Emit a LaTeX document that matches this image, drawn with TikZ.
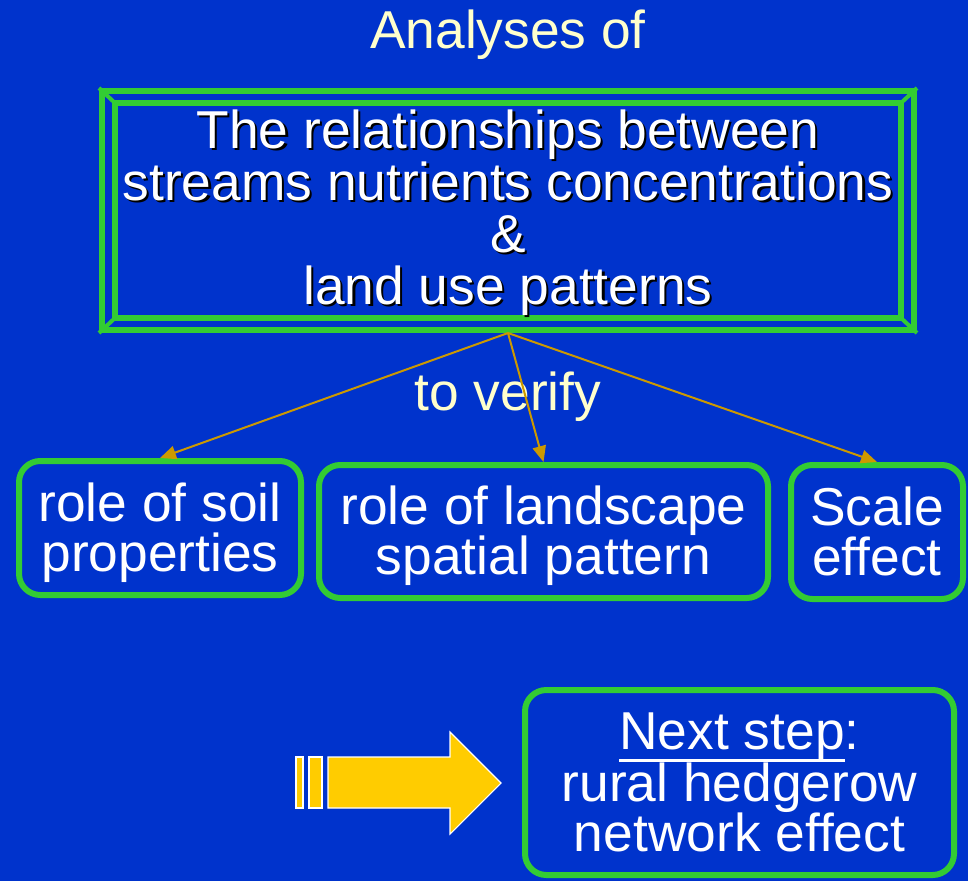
\documentclass[tikz,border=0pt]{standalone}
\usepackage{fontspec}
\setmainfont{Liberation Sans}
\usetikzlibrary{
    arrows.meta,
    calc
}
\definecolor{slideblue}{HTML}{0033CC}
\definecolor{framegreen}{HTML}{33CC33}
\definecolor{linkorange}{HTML}{CC9900}
\definecolor{cream}{HTML}{FFFFCC}
\definecolor{arrowyellow}{HTML}{FFCC00}
\newcommand{\dropshadow}[1]{\makebox[0pt][l]{\hspace{1.6pt}\raisebox{-1.6pt}{\color{black}#1}}#1}
\newcommand{\topstrut}{\rule{0pt}{0.9em}}
\newcommand{\botstrut}{\rule[-0.22em]{0pt}{0.22em}}
\newcommand{\slideul}[1]{\setbox0\hbox{#1}\rlap{\rule[-9.5pt]{\wd0}{2.2pt}}\box0}

\begin{document}
\begin{tikzpicture}[x=0.75pt,y=-0.75pt,
    txt/.style={font=\fontsize{40}{39}\selectfont, align=center, text=white, inner sep=0pt},
    topic/.style={txt, font=\fontsize{40}{37.5}\selectfont, draw=framegreen, line width=4.5pt, rounded corners=16pt},
    link/.style={draw=linkorange, line width=1.5pt, -{Triangle[length=12pt,width=10pt]}}]
\fill[slideblue] (0,0) rectangle (968,881);
\useasboundingbox (0,0) rectangle (968,881);

\node[txt, text=cream] (analysesTitle) at (508,35) {Analyses of};

% bevelled frame
\node[draw=framegreen, line width=4.5pt, minimum width=609pt, minimum height=179.25pt, inner sep=0pt] (rel) at (508,210.5) {};
\draw[framegreen, line width=4.5pt] ($(rel.north west)+(16,15)$) rectangle ($(rel.south east)+(-16,-15)$);
\draw[framegreen, line width=3pt]
  (rel.north west) -- ++(16,15)
  (rel.north east) -- ++(-16,15)
  (rel.south west) -- ++(16,-15)
  (rel.south east) -- ++(-16,-15);
\node[txt] (relText) at (508,214) {\dropshadow{The relationships between}\\
  \dropshadow{streams nutrients concentrations}\\ \dropshadow{\&}\\ \dropshadow{land use patterns}};

\node[txt, text=cream] (verifyLabel) at (508,397) {to verify};

\node[topic, minimum width=211.5pt, minimum height=100.5pt] (soil) at (160,528) {\topstrut role of soil\\properties\botstrut};
\node[topic, minimum width=336.75pt, minimum height=99.75pt] (landscape) at (543.5,531.5) {\topstrut role of landscape\\spatial pattern\botstrut};
\node[topic, minimum width=129pt, minimum height=100.5pt] (scale) at (877,532) {\topstrut Scale\\effect\botstrut};

\draw[link] (rel.south) -- (soil.north);
\draw[link] (rel.south) -- (landscape.north);
\draw[link] (rel.south) -- (scale.north);

\node[topic, minimum width=321.75pt, minimum height=138.75pt] (nextStep) at (739.5,782.5) {\topstrut\slideul{Next step}:\\rural hedgerow\\network effect\botstrut};

% striped arrow
\begin{scope}[fill=arrowyellow, draw=white, line width=0.8pt]
\filldraw (296,757) rectangle (303,808);
\filldraw (309,757) rectangle (322,808);
\filldraw (328,757) -- (450,757) -- (450,732) -- (501,783) -- (450,834) -- (450,808) -- (328,808) -- cycle;
\end{scope}
\end{tikzpicture}
\end{document}
